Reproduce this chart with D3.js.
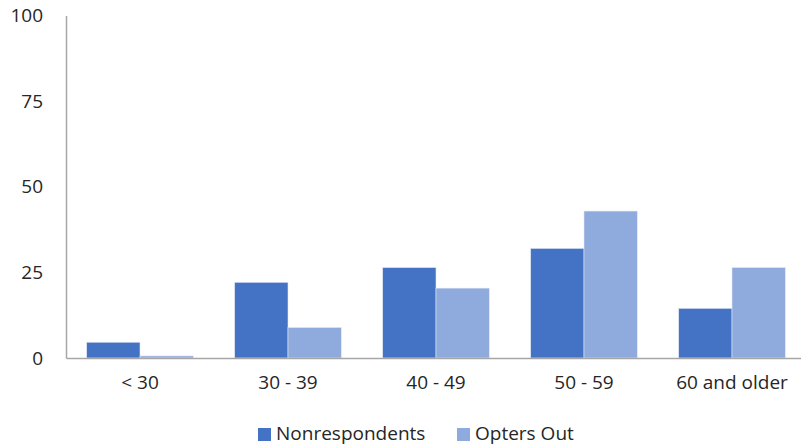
<!DOCTYPE html>
<html>
<head>
<meta charset="utf-8">
<script src="https://cdn.jsdelivr.net/npm/d3@7"></script>
<style>
  body { margin: 0; background: #fff; }
  text { font-family: "Open Sans", sans-serif; fill: #262626; }
</style>
</head>
<body>
<div id="chart"></div>
<script>
const categories = ["< 30", "30 - 39", "40 - 49", "50 - 59", "60 and older"];
const seriesNames = ["Nonrespondents", "Opters Out"];
const nonrespondents = [4.6, 22.1, 26.4, 32.0, 14.5];
const optersOut = [0.6, 8.9, 20.4, 42.9, 26.4];
const yTicks = [0, 25, 50, 75, 100];

const width = 801;
const height = 446;
const colors = ["#4472C4", "#8FAADC"];

const svg = d3.select("#chart")
    .append("svg")
    .attr("width", width)
    .attr("height", height);

const x = d3.scaleBand()
    .domain(categories)
    .range([66, 806])
    .paddingInner(0.28)
    .paddingOuter(0.14);

const xSub = d3.scaleBand()
    .domain(seriesNames)
    .range([0, x.bandwidth()]);

const y = d3.scaleLinear()
    .domain([0, 100])
    .range([358, 15.5]);

const data = categories.map((c, i) => ({
    category: c,
    values: [
        { name: seriesNames[0], value: nonrespondents[i] },
        { name: seriesNames[1], value: optersOut[i] }
    ]
}));

// bars
svg.append("g")
    .selectAll("g")
    .data(data)
    .enter()
    .append("g")
    .attr("transform", d => `translate(${x(d.category)},0)`)
    .selectAll("rect")
    .data(d => d.values)
    .enter()
    .append("rect")
    .attr("x", d => xSub(d.name))
    .attr("width", xSub.bandwidth())
    .attr("y", d => y(d.value))
    .attr("height", d => y(0) - y(d.value))
    .attr("fill", (d, i) => colors[i])
    .attr("stroke", "#dfe6f5")
    .attr("stroke-width", 0.6);

// y axis
const yAxis = svg.append("g")
    .attr("transform", "translate(66,0)")
    .call(d3.axisLeft(y).tickValues(yTicks).tickSize(0).tickPadding(23));
yAxis.select(".domain").attr("stroke", "#a6a6a6").attr("stroke-width", 1.5);
yAxis.selectAll("text").style("font-size", "19px").attr("fill", "#262626");

// x axis
const xAxis = svg.append("g")
    .attr("transform", `translate(0,${y(0)})`)
    .call(d3.axisBottom(x).tickSize(0).tickPadding(18));
xAxis.select(".domain").attr("stroke", "#a6a6a6").attr("stroke-width", 1.5);
xAxis.selectAll("text").style("font-size", "19px").attr("fill", "#262626");

// legend
const legendX = [258, 457];
const legend = svg.append("g");
seriesNames.forEach((name, i) => {
    legend.append("rect")
        .attr("x", legendX[i])
        .attr("y", 428)
        .attr("width", 13)
        .attr("height", 13)
        .attr("fill", colors[i]);
    legend.append("text")
        .attr("x", legendX[i] + 18)
        .attr("y", 440)
        .style("font-size", "19px")
        .text(name);
});
</script>
</body>
</html>
